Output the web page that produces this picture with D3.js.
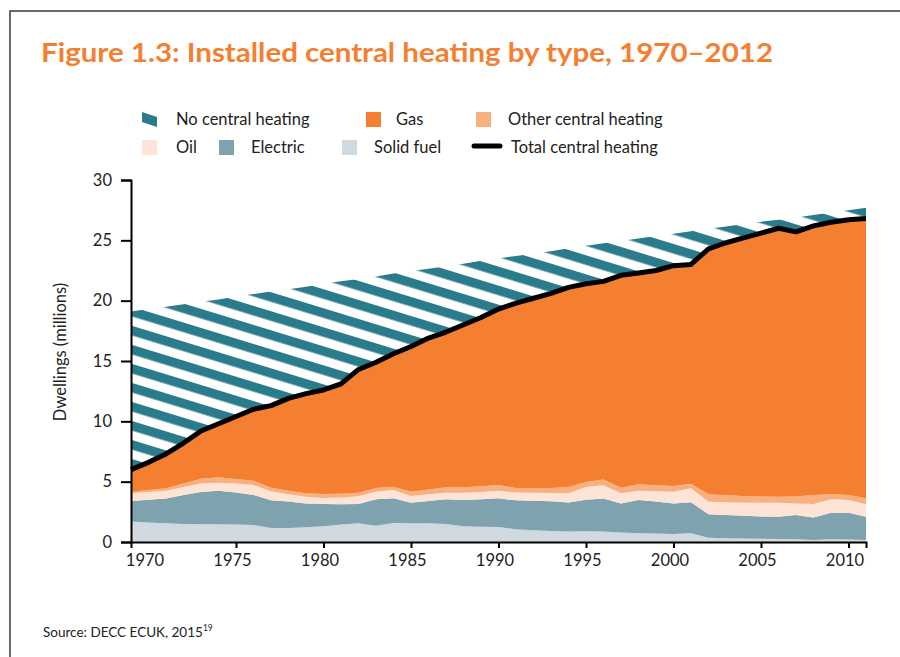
<!DOCTYPE html>
<html>
<head>
<meta charset="utf-8">
<script src="https://cdn.jsdelivr.net/npm/d3@7"></script>
<style>
  body { margin: 0; background: #fff; }
  svg { display: block; font-family: Lato, "Open Sans", sans-serif; }
</style>
</head>
<body>
<svg id="chart" width="900" height="657"></svg>
<script>
// data (millions of dwellings)
const years = [1970, 1971, 1972, 1973, 1974, 1975, 1976, 1977, 1978, 1979,
  1980, 1981, 1982, 1983, 1984, 1985, 1986, 1987, 1988, 1989,
  1990, 1991, 1992, 1993, 1994, 1995, 1996, 1997, 1998, 1999,
  2000, 2001, 2002, 2003, 2004, 2005, 2006, 2007, 2008, 2009,
  2010, 2011, 2012]
const solidFuel = [1.70, 1.62, 1.55, 1.50, 1.48, 1.47, 1.45, 1.41, 1.15, 1.15,
  1.22, 1.30, 1.45, 1.55, 1.35, 1.58, 1.55, 1.55, 1.50, 1.30,
  1.27, 1.25, 1.05, 0.98, 0.92, 0.88, 0.90, 0.88, 0.78, 0.72,
  0.70, 0.66, 0.72, 0.36, 0.32, 0.28, 0.26, 0.25, 0.22, 0.17,
  0.22, 0.20, 0.17]
const electric = [1.70, 1.88, 2.05, 2.40, 2.67, 2.78, 2.65, 2.49, 2.30, 2.20,
  1.98, 1.85, 1.67, 1.60, 2.20, 2.04, 1.71, 1.85, 2.04, 2.18,
  2.28, 2.37, 2.40, 2.44, 2.46, 2.40, 2.60, 2.72, 2.42, 2.76,
  2.65, 2.54, 2.58, 1.93, 1.92, 1.90, 1.86, 1.85, 2.02, 1.87,
  2.21, 2.23, 1.93]
const oil = [0.65, 0.65, 0.65, 0.65, 0.70, 0.67, 0.75, 0.82, 0.75, 0.60,
  0.55, 0.50, 0.56, 0.65, 0.63, 0.68, 0.55, 0.55, 0.55, 0.61,
  0.60, 0.63, 0.65, 0.67, 0.68, 0.77, 1.05, 1.10, 0.83, 0.77,
  0.85, 0.97, 1.15, 1.05, 1.06, 1.08, 1.14, 1.16, 0.96, 1.11,
  1.11, 1.05, 1.02]
const otherHeating = [0.10, 0.15, 0.20, 0.30, 0.40, 0.44, 0.37, 0.36, 0.30, 0.30,
  0.30, 0.32, 0.32, 0.28, 0.30, 0.28, 0.36, 0.40, 0.44, 0.44,
  0.47, 0.47, 0.38, 0.36, 0.42, 0.50, 0.42, 0.48, 0.47, 0.53,
  0.50, 0.47, 0.37, 0.61, 0.58, 0.55, 0.52, 0.50, 0.58, 0.75,
  0.41, 0.42, 0.50]
const gas = [1.85, 2.30, 2.85, 3.35, 3.95, 4.44, 5.18, 5.92, 6.80, 7.65,
  8.25, 8.63, 9.10, 10.22, 10.42, 11.02, 12.03, 12.55, 12.87, 13.47,
  13.98, 14.58, 15.32, 15.75, 16.12, 16.55, 16.43, 16.42, 17.60, 17.52,
  17.80, 18.26, 18.18, 20.35, 20.92, 21.39, 21.82, 22.24, 21.92, 22.30,
  22.55, 22.80, 23.18]
const noCentral = [13.10, 12.70, 12.20, 11.50, 10.70, 10.30, 9.95, 9.55, 9.45, 9.05,
  8.85, 8.80, 8.50, 7.50, 7.10, 6.65, 6.25, 5.75, 5.45, 5.05,
  4.70, 4.20, 3.90, 3.70, 3.50, 3.25, 3.15, 3.15, 2.85, 2.85,
  2.85, 2.65, 2.75, 1.65, 1.35, 1.15, 0.95, 0.70, 1.20, 0.90,
  0.80, 0.80, 0.90]

const yTicks = [0, 5, 10, 15, 20, 25, 30]
// the printed axis puts each label one year to the right of its value
const xTickYears = [1971, 1976, 1981, 1986, 1991, 1996, 2001, 2006, 2011]
const xTickLabels = ['1970', '1975', '1980', '1985', '1990', '1995', '2000', '2005', '2010']

const keys = ['solid', 'electric', 'oil', 'other', 'gas', 'none']
const colors = {
  solid: '#d0d9df',
  electric: '#7fa3ae',
  oil: '#fde4d6',
  other: '#f9b081',
  gas: '#f47f31',
  none: 'url(#hatch)'
}
const teal = '#2a7b8b'
const orange = '#f47f31'

const table = years.map((yr, i) => ({
  year: yr,
  solid: solidFuel[i],
  electric: electric[i],
  oil: oil[i],
  other: otherHeating[i],
  gas: gas[i],
  none: noCentral[i]
}))

const svg = d3.select('#chart')

// frame
svg.append('rect')
  .attr('x', 10).attr('y', 11).attr('width', 900).attr('height', 660)
  .attr('fill', 'none').attr('stroke', '#3a3a3a').attr('stroke-width', 1.5)

// hatch pattern
const defs = svg.append('defs')
const pat = defs.append('pattern')
  .attr('id', 'hatch')
  .attr('patternUnits', 'userSpaceOnUse')
  .attr('width', 40).attr('height', 18.2)
  .attr('patternTransform', 'rotate(17)')
pat.append('rect').attr('width', 40).attr('height', 18.2).attr('fill', '#fff')
pat.append('rect').attr('width', 40).attr('height', 9.2).attr('fill', teal)

// title
svg.append('text')
  .attr('x', 41).attr('y', 62)
  .attr('fill', orange)
  .attr('font-weight', 700)
  .attr('font-size', 27)
  .attr('textLength', 732)
  .attr('lengthAdjust', 'spacingAndGlyphs')
  .text('Figure 1.3: Installed central heating by type, 1970–2012')

const x = d3.scaleLinear().domain([1970, 2012]).range([131, 866])
const y = d3.scaleLinear().domain([0, 30]).range([542, 180])

const stacked = d3.stack().keys(keys)(table)

const area = d3.area()
  .x(d => x(d.data.year))
  .y0(d => y(d[0]))
  .y1(d => y(d[1]))

svg.append('g')
  .selectAll('path')
  .data(stacked)
  .join('path')
  .attr('fill', d => colors[d.key])
  .attr('d', area)

// total central heating = top of the gas layer
const gasLayer = stacked.find(s => s.key === 'gas')
svg.append('path')
  .datum(gasLayer)
  .attr('fill', 'none')
  .attr('stroke', '#000')
  .attr('stroke-width', 5)
  .attr('stroke-linejoin', 'round')
  .attr('d', d3.line().x(d => x(d.data.year)).y(d => y(d[1])))

// axes
const yAxis = svg.append('g')
  .attr('transform', 'translate(131,0)')
  .call(d3.axisLeft(y).tickValues(yTicks).tickSize(10).tickPadding(9))
yAxis.select('.domain').attr('stroke-width', 2)
yAxis.selectAll('.tick line').attr('stroke-width', 2)
yAxis.selectAll('text').attr('font-size', 16.5).attr('fill', '#222')
  .attr('font-family', 'Lato, sans-serif')

const xAxis = svg.append('g')
  .attr('transform', 'translate(0,542)')
  .call(d3.axisBottom(x).tickValues(xTickYears)
    .tickFormat((d, i) => xTickLabels[i]).tickSize(6).tickSizeOuter(6).tickPadding(6))
xAxis.select('.domain').attr('stroke-width', 2)
xAxis.selectAll('.tick line').attr('stroke-width', 2)
xAxis.selectAll('.tick').filter(d => d === 1971).select('line').remove()
xAxis.selectAll('text').attr('font-size', 16.5).attr('fill', '#222')
  .attr('dx', -4).attr('font-family', 'Lato, sans-serif')

// y axis title
svg.append('text')
  .attr('transform', 'translate(66,352) rotate(-90)')
  .attr('text-anchor', 'middle')
  .attr('font-size', 16.5)
  .attr('fill', '#222')
  .text('Dwellings (millions)')

// legend
const legend = svg.append('g').attr('font-size', 16.5).attr('fill', '#222')
const legendRows = [
  { label: 'No central heating', key: 'none', sx: 142, tx: 176, y: 119 },
  { label: 'Gas', key: 'gas', sx: 366, tx: 396, y: 119 },
  { label: 'Other central heating', key: 'other', sx: 476, tx: 508, y: 119 },
  { label: 'Oil', key: 'oil', sx: 142, tx: 176, y: 147 },
  { label: 'Electric', key: 'electric', sx: 219, tx: 251, y: 147 },
  { label: 'Solid fuel', key: 'solid', sx: 342, tx: 374, y: 147 },
  { label: 'Total central heating', key: 'total', sx: 472, tx: 511, y: 147 }
]
legendRows.forEach(r => {
  if (r.key === 'none') {
    legend.append('path')
      .attr('d', `M${r.sx},${r.y - 7}L${r.sx + 15},${r.y - 2}L${r.sx + 15},${r.y + 8}L${r.sx},${r.y + 3}Z`)
      .attr('fill', teal)
  } else if (r.key === 'total') {
    legend.append('line')
      .attr('x1', r.sx + 2).attr('x2', r.sx + 28)
      .attr('y1', r.y - 1).attr('y2', r.y - 1)
      .attr('stroke', '#000').attr('stroke-width', 5).attr('stroke-linecap', 'round')
  } else {
    legend.append('rect')
      .attr('x', r.sx).attr('y', r.y - 7).attr('width', 15).attr('height', 15)
      .attr('fill', colors[r.key])
  }
  legend.append('text')
    .attr('x', r.tx).attr('y', r.y)
    .attr('dy', '0.35em')
    .text(r.label)
})

// source
const src = svg.append('text')
  .attr('x', 43).attr('y', 637)
  .attr('font-size', 13.5).attr('fill', '#222')
  .text('Source: DECC ECUK, 2015')
src.append('tspan').attr('font-size', 8.5).attr('dy', -6).text('19')
</script>
</body>
</html>
